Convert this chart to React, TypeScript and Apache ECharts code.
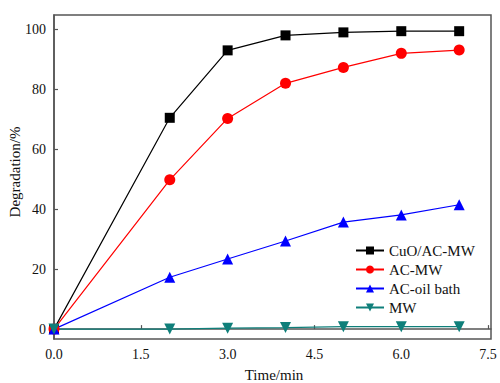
import React, { useEffect, useRef } from "react";
import * as echarts from "echarts";

const times = [0, 2, 3, 4, 5, 6, 7];
const cuoAcMw = [0, 70.5, 93, 98, 99, 99.4, 99.4];
const acMw = [0, 49.8, 70.3, 82, 87.3, 92, 93.1];
const acOilBath = [0, 17.3, 23.4, 29.4, 35.7, 38.1, 41.5];
const mw = [0, 0, 0.3, 0.5, 0.8, 0.8, 0.8];
const xTicks = [0, 1.5, 3, 4.5, 6, 7.5];
const yTicks = [0, 20, 40, 60, 80, 100];
const xName = "Time/min";
const yName = "Degradation/%";

const seriesDefs = [
  { name: "CuO/AC-MW", data: cuoAcMw, color: "#000000", symbol: "rect", size: 10, rotate: 0 },
  { name: "AC-MW", data: acMw, color: "#ff0000", symbol: "circle", size: 11, rotate: 0 },
  { name: "AC-oil bath", data: acOilBath, color: "#0000ff", symbol: "triangle", size: 11, rotate: 0 },
  { name: "MW", data: mw, color: "#0f7f7a", symbol: "triangle", size: 11, rotate: 180 },
];

export default function App() {
  const ref = useRef<HTMLDivElement>(null);
  useEffect(() => {
    if (!ref.current) return;
    const chart = echarts.init(ref.current, null, { renderer: "svg" });
    const font = "Liberation Serif";
    chart.setOption({
      animation: false,
      backgroundColor: "#ffffff",
      textStyle: { fontFamily: font },
      grid: {
        left: 54,
        right: 9,
        top: 15,
        bottom: 44,
        show: true,
        borderColor: "#555",
        borderWidth: 1.5,
        containLabel: false,
      },
      graphic: [
        {
          type: "text",
          x: 274,
          y: 375,
          style: {
            text: xName,
            fontFamily: font,
            fontSize: 15,
            fill: "#111",
            textAlign: "center",
            textVerticalAlign: "middle",
          },
        },
        {
          type: "text",
          x: 15,
          y: 172,
          rotation: Math.PI / 2,
          style: {
            text: yName,
            fontFamily: font,
            fontSize: 15,
            fill: "#111",
            textAlign: "center",
            textVerticalAlign: "middle",
          },
        },
      ],
      legend: {
        orient: "vertical",
        left: 350,
        top: 238,
        itemWidth: 28,
        itemHeight: 10,
        itemGap: 4,
        textStyle: { fontFamily: font, fontSize: 15, color: "#111" },
        data: seriesDefs.map((s) => s.name),
      },
      xAxis: {
        type: "value",
        min: 0,
        max: 7.55,
        axisLine: { show: true, lineStyle: { color: "#555", width: 1.5 } },
        axisTick: { show: true, inside: true, length: 4, customValues: xTicks, lineStyle: { color: "#555", width: 1.2 } },
        axisLabel: {
          customValues: xTicks,
          formatter: (v: number) => v.toFixed(1),
          fontFamily: font,
          fontSize: 14,
          color: "#111",
          margin: 8,
        },
        splitLine: { show: false },
      },
      yAxis: {
        type: "value",
        min: -3.3,
        max: 104.8,
        axisLine: { show: true, lineStyle: { color: "#555", width: 1.5 } },
        axisTick: { show: true, inside: true, length: 4, customValues: yTicks, lineStyle: { color: "#555", width: 1.2 } },
        axisLabel: {
          customValues: yTicks,
          fontFamily: font,
          fontSize: 14,
          color: "#111",
          margin: 8,
        },
        splitLine: { show: false },
      },
      series: seriesDefs.map((s) => ({
        name: s.name,
        type: "line",
        data: times.map((t, i) => [t, s.data[i]]),
        symbol: s.symbol,
        symbolSize: s.size,
        symbolRotate: s.rotate,
        showAllSymbol: true,
        itemStyle: { color: s.color },
        lineStyle: { color: s.color, width: 1.2 },
      })),
    });
    return () => chart.dispose();
  }, []);
  return <div ref={ref} style={{ width: 500, height: 383, position: "absolute", left: 0, top: 0 }} />;
}
